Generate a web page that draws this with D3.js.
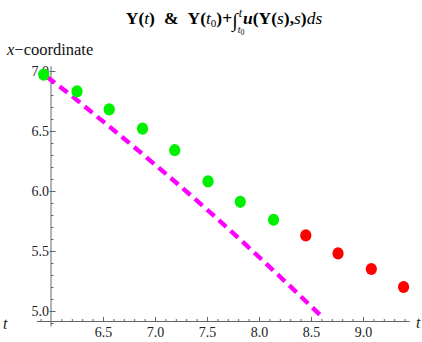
<!DOCTYPE html>
<html>
<head>
<meta charset="utf-8">
<script src="https://cdn.jsdelivr.net/npm/d3@7"></script>
<style>
  body { margin: 0; background: #fff; }
  svg text { font-family: "Liberation Serif", "Times New Roman", serif; }
</style>
</head>
<body>
<div id="chart"></div>
<script>

var t_points = [5.93, 6.25, 6.56, 6.88, 7.19, 7.51, 7.82, 8.14, 8.45, 8.76, 9.08, 9.39];
var x_points = [6.97, 6.83, 6.68, 6.52, 6.34, 6.08, 5.91, 5.76, 5.63, 5.48, 5.35, 5.20];
var point_phase = ["in", "in", "in", "in", "in", "in", "in", "in", "out", "out", "out", "out"];

// integral curve Y(t0) + int u ds (dashed)
var t_line = [5.96, 6.0, 6.5, 7.0, 7.5, 8.0, 8.5, 8.62];
var x_line = [6.95, 6.925, 6.58, 6.22, 5.845, 5.45, 5.04, 4.94];

// tick labels
var x_ticks = [6.5, 7.0, 7.5, 8.0, 8.5, 9.0];
var y_ticks = [5.0, 5.5, 6.0, 6.5, 7.0];

var width = 422,
    height = 342;

var svg = d3.select("#chart").append("svg")
    .attr("width", width)
    .attr("height", height);

// scales
var x = d3.scaleLinear().domain([6.0, 9.0]).range([51, 363]);
var y = d3.scaleLinear().domain([5.0, 7.0]).range([311, 71]);

var colour = d3.scaleOrdinal()
    .domain(["in", "out"])
    .range(["#00f000", "#ff0000"]);

// where the axes cross
var t_origin = 6.0,
    x_origin = 4.9125;

// minor ticks every 0.1
var x_minor = d3.range(59, 95).map(function(d) { return d / 10; })
    .filter(function(d) { return Math.abs(d * 2 - Math.round(d * 2)) > 0.01 && Math.abs(d - 6.0) > 0.01; });
var y_minor = d3.range(49, 71).map(function(d) { return d / 10; })
    .filter(function(d) { return Math.abs(d * 2 - Math.round(d * 2)) > 0.01; });

var axis_colour = "#666";

// x axis
var gx = svg.append("g")
    .attr("transform", "translate(0," + y(x_origin) + ")");

gx.append("line")
    .attr("x1", x(5.865)).attr("x2", x(9.45))
    .attr("stroke", axis_colour);

gx.append("g")
    .call(d3.axisBottom(x).tickValues(x_minor).tickSize(-2.5).tickFormat(""))
    .call(function(g) { g.select(".domain").remove(); })
    .selectAll("line").attr("stroke", axis_colour);

gx.append("g")
    .call(d3.axisBottom(x).tickValues(x_ticks).tickSize(-4.5).tickPadding(6)
      .tickFormat(d3.format(".1f")))
    .call(function(g) { g.select(".domain").remove(); })
    .call(function(g) {
      g.selectAll("line").attr("stroke", axis_colour);
      g.selectAll("text")
        .attr("fill", "#222")
        .style("font-size", "14px")
        .style("font-family", "Liberation Serif");
    });

// y axis
var gy = svg.append("g")
    .attr("transform", "translate(" + x(t_origin) + ",0)");

gy.append("line")
    .attr("y1", y(4.87)).attr("y2", y(7.04))
    .attr("stroke", axis_colour);

gy.append("g")
    .call(d3.axisLeft(y).tickValues(y_minor).tickSize(-2.5).tickFormat(""))
    .call(function(g) { g.select(".domain").remove(); })
    .selectAll("line").attr("stroke", axis_colour);

gy.append("g")
    .call(d3.axisLeft(y).tickValues(y_ticks).tickSize(-4.5).tickPadding(2)
      .tickFormat(d3.format(".1f")))
    .call(function(g) { g.select(".domain").remove(); })
    .call(function(g) {
      g.selectAll("line").attr("stroke", axis_colour).attr("x1", -1.5);
      g.selectAll("text")
        .attr("fill", "#222")
        .style("font-size", "14px")
        .style("font-family", "Liberation Serif");
    });

// axis labels
svg.append("text")
    .attr("x", 416).attr("y", 328)
    .style("font-size", "16px")
    .style("font-style", "italic")
    .attr("fill", "#222")
    .text("t");

svg.append("text")
    .attr("x", 3).attr("y", 329)
    .style("font-size", "16px")
    .style("font-style", "italic")
    .attr("fill", "#222")
    .text("t");

var ylab = svg.append("text")
    .attr("x", 7).attr("y", 55)
    .style("font-size", "16.5px")
    .attr("fill", "#111");
ylab.append("tspan").style("font-style", "italic").text("x");
ylab.append("tspan").text("\u2212coordinate");

// dashed integral curve
var line = d3.line()
    .x(function(d, i) { return x(t_line[i]); })
    .y(function(d, i) { return y(x_line[i]); })
    .curve(d3.curveMonotoneX);

svg.append("path")
    .datum(t_line)
    .attr("d", line)
    .attr("fill", "none")
    .attr("stroke", "#ff00ff")
    .attr("stroke-width", 4.4)
    .attr("stroke-dasharray", "10,6");

// sampled points
svg.selectAll(".pt")
    .data(t_points)
    .enter().append("ellipse")
    .attr("class", "pt")
    .attr("cx", function(d) { return x(d); })
    .attr("cy", function(d, i) { return y(x_points[i]); })
    .attr("rx", 5.6)
    .attr("ry", 6.1)
    .attr("fill", function(d, i) { return colour(point_phase[i]); });

// title, built piece by piece so the integral limits can stack
var title = svg.append("g");
var cx = 0, base = 24;

function piece(str, size, weight, style, dy, advance) {
  var t = title.append("text")
    .attr("x", cx)
    .attr("y", base + (dy || 0))
    .style("font-size", size + "px")
    .style("font-weight", weight)
    .style("font-style", style)
    .attr("fill", "#000")
    .text(str);
  var w = t.node().getComputedTextLength();
  if (advance !== false) cx += w;
  return w;
}

var fs = 17.5;
piece("Y", fs, "bold", "normal");
piece("(", fs, "bold", "normal");
piece("t", fs, "normal", "italic");
piece(")", fs, "bold", "normal");
cx += 9;
piece("&", fs, "bold", "normal");
cx += 9;
piece("Y", fs, "bold", "normal");
piece("(", fs, "bold", "normal");
piece("t", fs, "normal", "italic");
piece("0", 11, "normal", "normal", 3);
piece(")", fs, "bold", "normal");
piece("+", fs, "bold", "normal");
piece("\u222B", 20, "normal", "normal", 3);
var cx_int = cx;
piece("t", 10, "normal", "italic", 9);
piece("0", 8, "normal", "normal", 11);
var cx_after = cx;
cx = cx_int + 1;
piece("t", 12, "normal", "italic", -7);
cx = Math.max(cx, cx_after - 3) + 1;
piece("u", fs, "bold", "italic");
piece("(", fs, "bold", "normal");
piece("Y", fs, "bold", "normal");
piece("(", fs, "bold", "normal");
piece("s", fs, "normal", "italic");
piece(")", fs, "bold", "normal");
piece(",", fs, "bold", "normal");
piece("s", fs, "normal", "italic");
piece(")", fs, "bold", "normal");
piece("ds", fs, "normal", "italic");

title.attr("transform", "translate(" + (224 - cx / 2) + ",0)");

</script>
</body>
</html>
